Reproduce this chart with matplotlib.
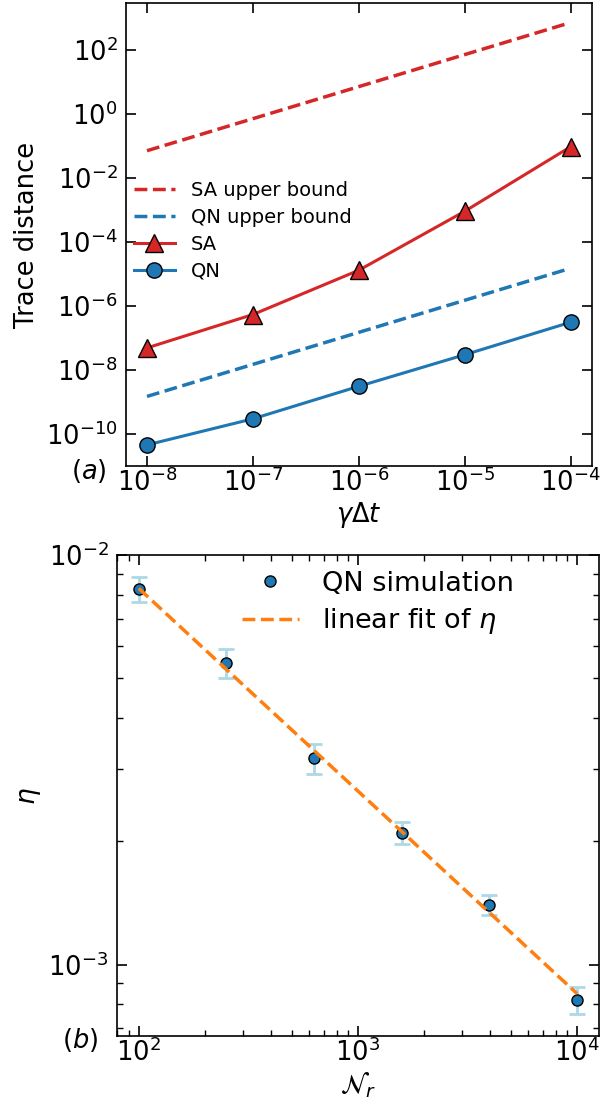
import numpy as np
import matplotlib
matplotlib.use("Agg")
import matplotlib.pyplot as plt
from matplotlib.ticker import LogLocator, NullFormatter

# panel (a) data
dt = [1e-8, 1e-7, 1e-6, 1e-5, 1e-4]
sa_dist = [4.9e-8, 5.4e-7, 1.3e-5, 9.0e-4, 9.3e-2]
qn_dist = [4.6e-11, 3.0e-10, 3.1e-9, 3.0e-8, 3.1e-7]
bound_dt = [1e-8, 9e-5]
sa_bound = [0.07, 630.0]
qn_bound = [1.5e-9, 1.35e-5]

# panel (b) data
n_r = [100, 251, 631, 1585, 3981, 10000]
eta = [8.26e-3, 5.46e-3, 3.19e-3, 2.10e-3, 1.40e-3, 8.2e-4]
eta_err = [0.57e-3, 0.45e-3, 0.27e-3, 0.13e-3, 0.08e-3, 0.06e-3]
fit_n = [100, 10000]
fit_eta = [8.3e-3, 8.5e-4]

red = '#d62728'
blue = '#1f77b4'
orange = '#ff7f0e'

fig = plt.figure(figsize=(6.02, 11.06), dpi=100)
ax1 = fig.add_axes([0.209, 0.5787, 0.774, 0.4186])
ax2 = fig.add_axes([0.194, 0.0633, 0.801, 0.4347])

# (a)
ax1.plot(bound_dt, sa_bound, '--', color=red, lw=2.5, label='SA upper bound')
ax1.plot(bound_dt, qn_bound, '--', color=blue, lw=2.5, label='QN upper bound')
ax1.plot(dt, sa_dist, '-^', color=red, lw=2.2, ms=13, mec='black', mew=1, label='SA')
ax1.plot(dt, qn_dist, '-o', color=blue, lw=2.2, ms=11, mec='black', mew=1, label='QN')
ax1.set_xscale('log')
ax1.set_yscale('log')
ax1.set_xticks(dt)
ax1.yaxis.set_major_locator(LogLocator(base=100.0, numticks=20))
ax1.xaxis.set_minor_locator(plt.NullLocator())
ax1.yaxis.set_minor_locator(plt.NullLocator())
ax1.set_ylabel('Trace distance', fontsize=18.5)
ax1.set_xlabel(r'$\gamma\Delta t$', fontsize=18.5, labelpad=2)
ax1.legend(loc='center left', bbox_to_anchor=(0.0, 0.508), borderaxespad=0,
           frameon=False, fontsize=14, handlelength=2.15, handletextpad=0.8,
           labelspacing=0.4)
ax1.text(-0.079, -0.01, r'$(a)$', transform=ax1.transAxes, fontsize=18.5,
         ha='center', va='center')

# (b)
ax2.errorbar(n_r, eta, yerr=eta_err, fmt='none', ecolor='lightblue',
             elinewidth=2, capsize=5.5, capthick=2)
ax2.plot(n_r, eta, 'o', color=blue, ms=8, mec='black', mew=1, label='QN simulation')
ax2.plot(fit_n, fit_eta, '--', color=orange, lw=2.5, label=r'linear fit of $\eta$')
ax2.set_xscale('log')
ax2.set_yscale('log')
ax2.set_ylim(6.7e-4, 1e-2)
ax2.set_ylabel(r'$\eta$', fontsize=19)
ax2.set_xlabel(r'$\mathcal{N}_r$', fontsize=19, labelpad=2)
ax2.yaxis.set_minor_formatter(NullFormatter())
ax2.legend(loc='upper right', bbox_to_anchor=(0.845, 0.99), borderaxespad=0,
           frameon=False, fontsize=19.5, handlelength=2.07, handletextpad=0.85,
           labelspacing=0.35)
ax2.text(-0.077, -0.008, r'$(b)$', transform=ax2.transAxes, fontsize=18.5,
         ha='center', va='center')

for ax in (ax1, ax2):
    ax.tick_params(which='both', direction='in', top=True, right=True, labelsize=18.5)
    ax.tick_params(axis='y', which='both', pad=6)
    ax.tick_params(axis='x', which='both', pad=2)
    ax.tick_params(which='major', length=7, width=1.2)
    ax.tick_params(which='minor', length=4, width=1)
    for s in ax.spines.values():
        s.set_linewidth(1.2)

fig.savefig('out.png', dpi=100)
